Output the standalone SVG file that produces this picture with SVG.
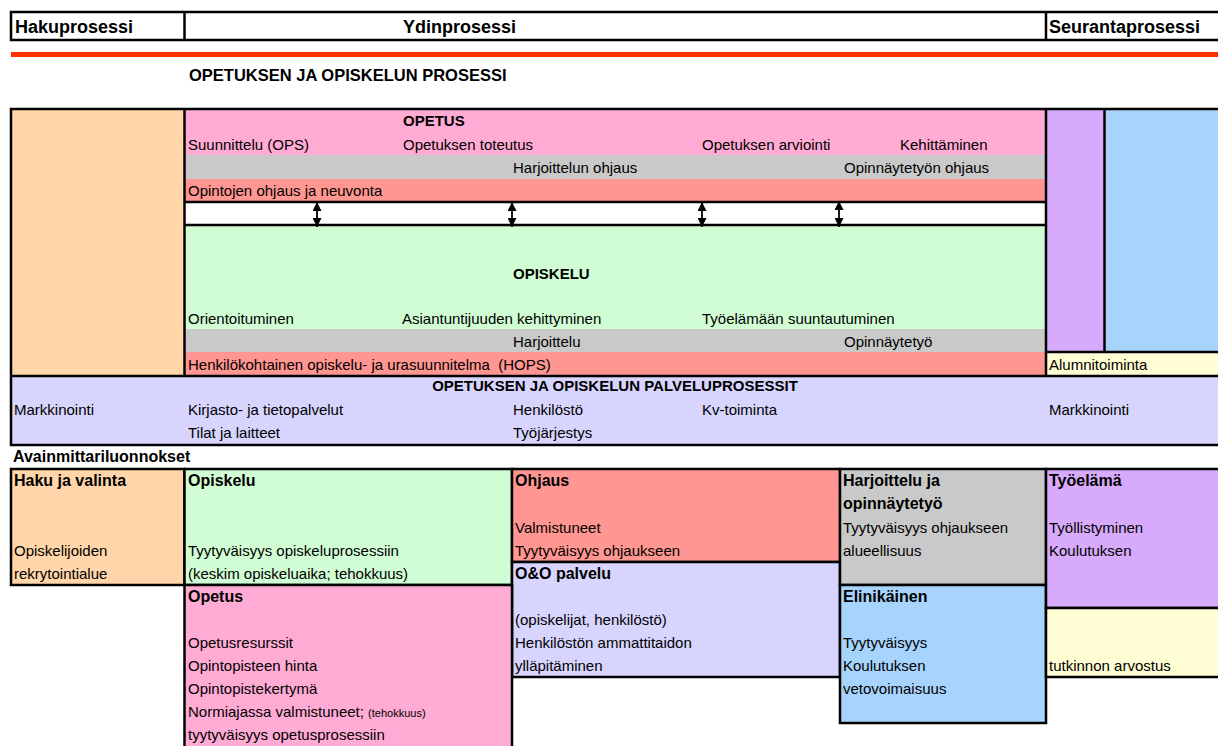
<svg xmlns="http://www.w3.org/2000/svg" width="1218" height="746" viewBox="0 0 1218 746">
<style>
text{font-family:"Liberation Sans",Arial,sans-serif;font-size:15px;fill:#000}
.b{font-weight:bold;font-size:15px}
.h{font-weight:bold;font-size:18px}
.bt{font-weight:bold;font-size:16px}
.ln{stroke:#000;stroke-width:2.5;fill:none}
.bx{stroke:#000;stroke-width:2.5}
.pink{fill:#ffabd4}.gray{fill:#c9c9c9}.sal{fill:#ff9691}.green{fill:#d1fdd4}.orange{fill:#ffd5a9}
.lav{fill:#d7d5fd}.purple{fill:#d8aafb}.blue{fill:#a7d4fd}.yellow{fill:#fffdd3}
.arr{stroke:#000;stroke-width:1.8}
</style>
<defs>
<marker id="ah" viewBox="0 0 10 10" refX="10" refY="5" markerWidth="9" markerHeight="9" markerUnits="userSpaceOnUse" orient="auto-start-reverse"><path d="M0,0 L10,5 L0,10 z" fill="#000"/></marker>
</defs>
<rect width="1218" height="746" fill="#fff"/>

<g id="header">
<rect x="11" y="12" width="1210" height="28" fill="#fff" class="bx"/>
<line x1="184.5" y1="12" x2="184.5" y2="40" class="ln"/>
<line x1="1046" y1="12" x2="1046" y2="40" class="ln"/>
<text x="15" y="33" class="h">Hakuprosessi</text>
<text x="403" y="33" class="h">Ydinprosessi</text>
<text x="1049" y="33" class="h">Seurantaprosessi</text>
<rect x="11" y="52" width="1207" height="5" fill="#ff3000"/>
</g>

<g id="title"><text x="189" y="81" class="b" style="font-size:16.5px">OPETUKSEN JA OPISKELUN PROSESSI</text></g>

<g id="hakuprosessi"><rect x="11" y="109" width="173.5" height="267" class="orange"/></g>

<g id="opetus">
<rect x="184.5" y="109" width="861.5" height="46" class="pink"/>
<rect x="184.5" y="155" width="861.5" height="24" class="gray"/>
<rect x="184.5" y="179" width="861.5" height="23" class="sal"/>
<text x="403" y="126" class="b">OPETUS</text>
<text x="188" y="150">Suunnittelu (OPS)</text>
<text x="403" y="150">Opetuksen toteutus</text>
<text x="702" y="150">Opetuksen arviointi</text>
<text x="900" y="150">Kehittäminen</text>
<text x="513" y="173">Harjoittelun ohjaus</text>
<text x="844" y="173">Opinnäytetyön ohjaus</text>
<text x="188" y="196">Opintojen ohjaus ja neuvonta</text>
</g>

<g id="valirivi"><rect x="184.5" y="202" width="861.5" height="23" fill="#fff"/></g>

<g id="opiskelu">
<rect x="184.5" y="225" width="861.5" height="104" class="green"/>
<rect x="184.5" y="329" width="861.5" height="23" class="gray"/>
<rect x="184.5" y="352" width="861.5" height="24" class="sal"/>
<text x="513" y="279" class="b">OPISKELU</text>
<text x="188" y="324">Orientoituminen</text>
<text x="402" y="324">Asiantuntijuuden kehittyminen</text>
<text x="702" y="324">Työelämään suuntautuminen</text>
<text x="513" y="347">Harjoittelu</text>
<text x="844" y="347">Opinnäytetyö</text>
<text x="188" y="370" style="white-space:pre">Henkilökohtainen opiskelu- ja urasuunnitelma  (HOPS)</text>
</g>

<g id="seuranta">
<rect x="1046" y="109" width="58" height="243" class="purple"/>
<rect x="1104" y="109" width="116" height="243" class="blue"/>
<rect x="1046" y="352" width="174" height="24" class="yellow"/>
<text x="1049" y="370">Alumnitoiminta</text>
</g>

<g id="palveluprosessit">
<rect x="11" y="376" width="1209" height="69" class="lav"/>
<text x="615" y="391" class="b" text-anchor="middle">OPETUKSEN JA OPISKELUN PALVELUPROSESSIT</text>
<text x="14" y="415">Markkinointi</text>
<text x="188" y="415">Kirjasto- ja tietopalvelut</text>
<text x="513" y="415">Henkilöstö</text>
<text x="702" y="415">Kv-toiminta</text>
<text x="1049" y="415">Markkinointi</text>
<text x="188" y="438">Tilat ja laitteet</text>
<text x="513" y="438">Työjärjestys</text>
</g>

<g id="borders">
<rect x="11" y="109" width="1210" height="336" class="ln"/>
<line x1="184.5" y1="109" x2="184.5" y2="376" class="ln"/>
<line x1="1046" y1="109" x2="1046" y2="376" class="ln"/>
<line x1="1104.5" y1="109" x2="1104.5" y2="352" class="ln"/>
<line x1="1046" y1="352" x2="1220" y2="352" class="ln"/>
<line x1="184.5" y1="202" x2="1046" y2="202" class="ln"/>
<line x1="184.5" y1="225" x2="1046" y2="225" class="ln"/>
<line x1="11" y1="376" x2="1220" y2="376" class="ln"/>
</g>

<g id="connectors">
<line x1="317" y1="202" x2="317" y2="227" class="arr" marker-start="url(#ah)" marker-end="url(#ah)"/>
<line x1="512" y1="202" x2="512" y2="227" class="arr" marker-start="url(#ah)" marker-end="url(#ah)"/>
<line x1="702" y1="202" x2="702" y2="227" class="arr" marker-start="url(#ah)" marker-end="url(#ah)"/>
<line x1="839" y1="201" x2="839" y2="227" class="arr" marker-start="url(#ah)" marker-end="url(#ah)"/>
</g>

<g id="mittarit-otsikko"><text x="13" y="462" class="bt">Avainmittariluonnokset</text></g>

<g id="m-haku">
<rect x="11" y="469" width="173.5" height="116" class="orange bx"/>
<text x="14" y="486" class="bt">Haku ja valinta</text>
<text x="14" y="556">Opiskelijoiden</text>
<text x="14" y="579">rekrytointialue</text>
</g>
<g id="m-opiskelu">
<rect x="184.5" y="469" width="327.5" height="116" class="green bx"/>
<text x="188" y="486" class="bt">Opiskelu</text>
<text x="188" y="556">Tyytyväisyys opiskeluprosessiin</text>
<text x="188" y="579">(keskim opiskeluaika; tehokkuus)</text>
</g>
<g id="m-ohjaus">
<rect x="512" y="469" width="328" height="93" class="sal bx"/>
<text x="515" y="486" class="bt">Ohjaus</text>
<text x="515" y="533">Valmistuneet</text>
<text x="515" y="556">Tyytyväisyys ohjaukseen</text>
</g>
<g id="m-oo">
<rect x="512" y="562" width="328" height="115" class="lav bx"/>
<text x="515" y="579" class="bt">O&amp;O palvelu</text>
<text x="515" y="625">(opiskelijat, henkilöstö)</text>
<text x="515" y="648">Henkilöstön ammattitaidon</text>
<text x="515" y="671">ylläpitäminen</text>
</g>
<g id="m-harjoittelu">
<rect x="840" y="469" width="206" height="116" class="gray bx"/>
<text x="843" y="486" class="bt">Harjoittelu ja</text>
<text x="843" y="509" class="bt">opinnäytetyö</text>
<text x="843" y="533">Tyytyväisyys ohjaukseen</text>
<text x="843" y="556">alueellisuus</text>
</g>
<g id="m-elinikainen">
<rect x="840" y="585" width="206" height="138" class="blue bx"/>
<text x="843" y="602" class="bt">Elinikäinen</text>
<text x="843" y="648">Tyytyväisyys</text>
<text x="843" y="671">Koulutuksen</text>
<text x="843" y="694">vetovoimaisuus</text>
</g>
<g id="m-tyoelama">
<rect x="1046" y="469" width="175" height="139" class="purple bx"/>
<text x="1049" y="486" class="bt">Työelämä</text>
<text x="1049" y="533">Työllistyminen</text>
<text x="1049" y="556">Koulutuksen</text>
</g>
<g id="m-arvostus">
<rect x="1046" y="608" width="175" height="69" class="yellow bx"/>
<text x="1049" y="671">tutkinnon arvostus</text>
</g>
<g id="m-opetus">
<rect x="184.5" y="585" width="327.5" height="165" class="pink bx"/>
<text x="188" y="602" class="bt">Opetus</text>
<text x="188" y="648">Opetusresurssit</text>
<text x="188" y="671">Opintopisteen hinta</text>
<text x="188" y="694">Opintopistekertymä</text>
<text x="188" y="717">Normiajassa valmistuneet; <tspan style="font-size:11px">(tehokkuus)</tspan></text>
<text x="188" y="740">tyytyväisyys opetusprosessiin</text>
</g>
</svg>
